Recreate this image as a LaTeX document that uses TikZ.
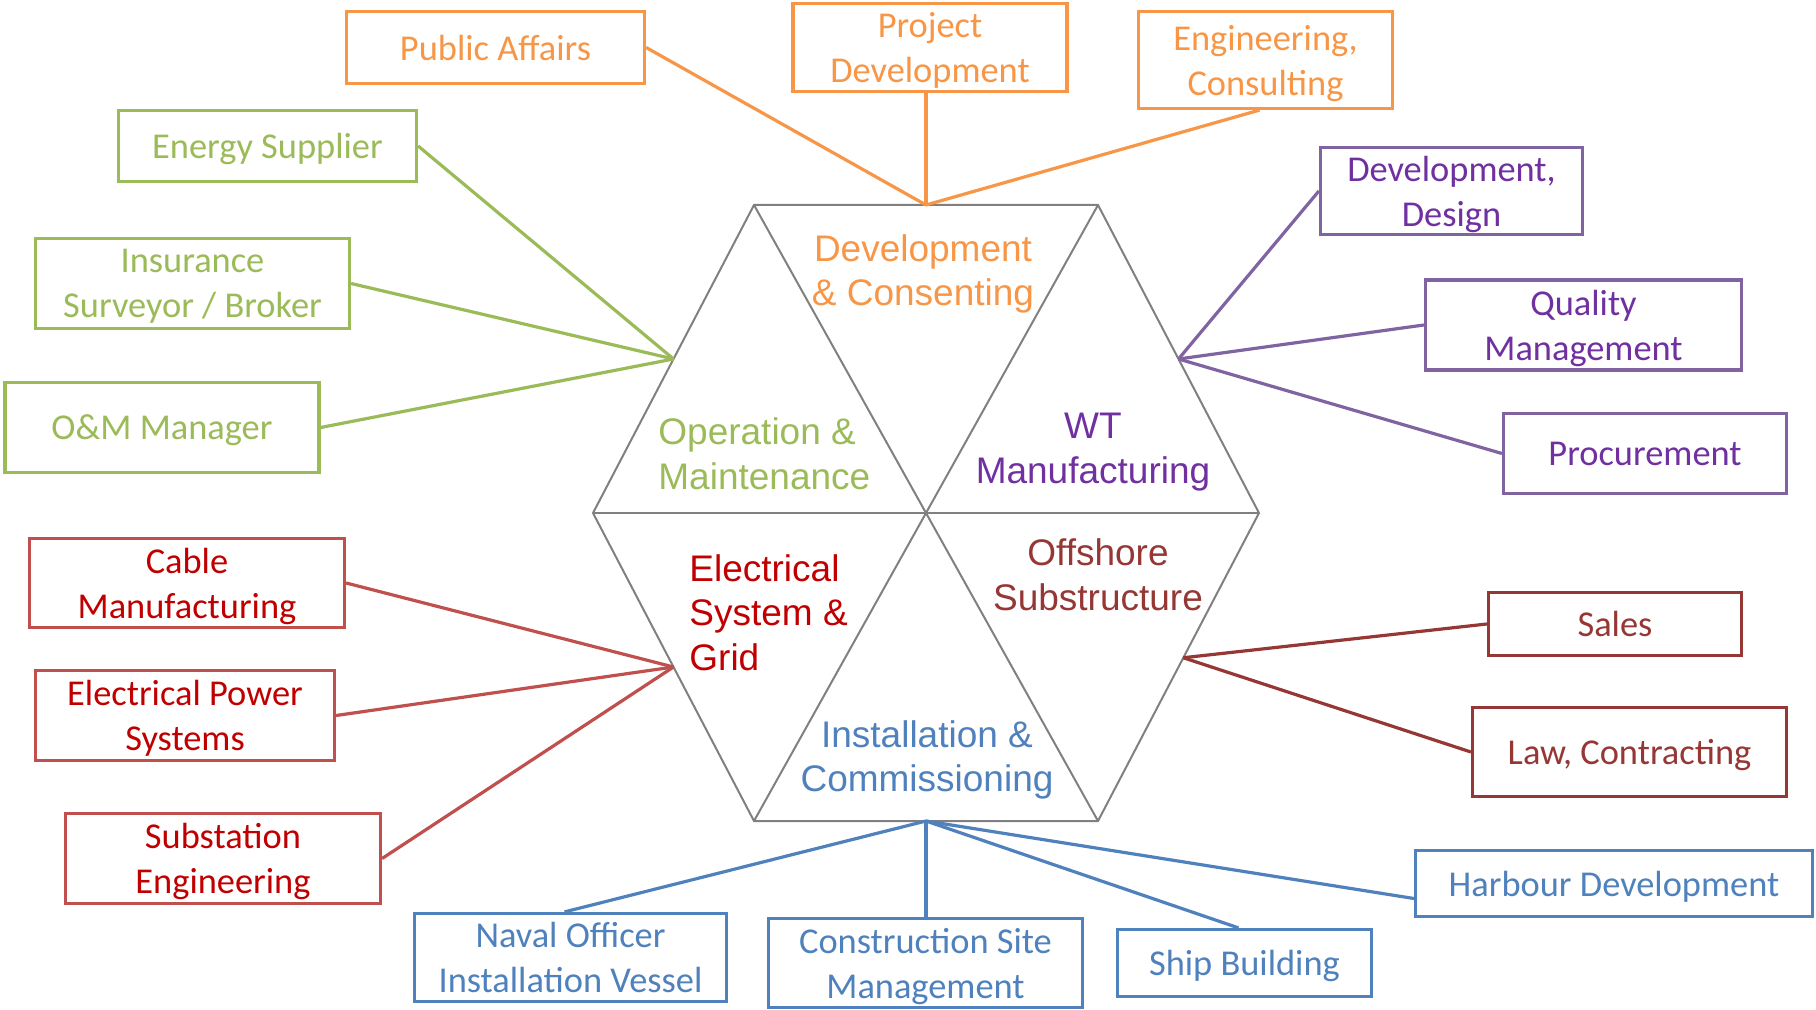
\documentclass[tikz,border=0pt]{standalone}
\usepackage{fontspec}
\setmainfont{Carlito}
\newfontfamily\hexfont{Liberation Sans}
\usetikzlibrary{calc}

\definecolor{devorange}{HTML}{F79646}
\definecolor{omgreen}{HTML}{9BBB59}
\definecolor{wtline}{HTML}{8064A2}
\definecolor{wttext}{HTML}{7030A0}
\definecolor{elline}{HTML}{C0504D}
\definecolor{eltext}{HTML}{C00000}
\definecolor{offred}{HTML}{953735}
\definecolor{instblue}{HTML}{4F81BD}
\definecolor{hexgray}{HTML}{808080}

\begin{document}
\begin{tikzpicture}[x=0.5pt, y=-0.5pt,
                    every box/.style = {rectangle, line width=1.6pt, fill=white, inner sep=1pt, align=center,
                            text depth=0pt, font=\fontsize{18.2}{22.5}\selectfont},
                    dev box/.style = {every box, draw=devorange, text=devorange},
                    om box/.style = {every box, draw=omgreen, text=omgreen},
                    wt box/.style = {every box, draw=wtline, text=wttext},
                    el box/.style = {every box, draw=elline, text=eltext},
                    off box/.style = {every box, draw=offred, text=offred},
                    inst box/.style = {every box, draw=instblue, text=instblue},
                    every link/.style = {line width=1.6pt},
                    dev link/.style = {every link, draw=devorange},
                    om link/.style = {every link, draw=omgreen},
                    wt link/.style = {every link, draw=wtline},
                    el link/.style = {every link, draw=elline},
                    off link/.style = {every link, draw=offred},
                    inst link/.style = {every link, draw=instblue},
                    hex edge/.style = {draw=hexgray, line width=1pt, line join=miter},
                    sector/.style = {inner sep=0pt, text depth=0pt, font=\hexfont\fontsize{18.5}{22.3}\selectfont} ]

                \useasboundingbox (0,0) rectangle (1816,1010);

                % hexagon
                \coordinate (hc) at (926,513);
                \coordinate (hl) at (593,513);
                \coordinate (hr) at (1259,513);
                \coordinate (htl) at (754,205);
                \coordinate (htr) at (1098,205);
                \coordinate (hbl) at (754,821);
                \coordinate (hbr) at (1098,821);
                \draw [hex edge] (hl) -- (htl) -- (htr) -- (hr) -- (hbr) -- (hbl) -- cycle;
                \foreach \v in {hl,htl,htr,hr,hbr,hbl}
                    \draw [hex edge] (hc) -- (\v);

                \coordinate (pdev) at ($(htl)!.5!(htr)$);
                \coordinate (pom) at ($(hl)!.5!(htl)$);
                \coordinate (pwt) at ($(htr)!.5!(hr)$);
                \coordinate (pel) at ($(hl)!.5!(hbl)$);
                \coordinate (poff) at ($(hr)!.47!(hbr)$);
                \coordinate (pinst) at ($(hbl)!.5!(hbr)$);

                \node [sector, text=devorange, align=center] (hdev) at (923,270) {Development\\\& Consenting};
                \node [sector, text=omgreen, align=left, anchor=west] (hom) at (658,453.5) {Operation \&\\Maintenance};
                \node [sector, text=wttext, align=center] (hwt) at (1093,448) {WT\\Manufacturing};
                \node [sector, text=eltext, align=left, anchor=west] (hel) at (689,612.5) {Electrical\\System \&\\Grid};
                \node [sector, text=offred, align=center] (hoff) at (1098,574.5) {Offshore\\Substructure};
                \node [sector, text=instblue, align=center] (hinst) at (927,756) {Installation \&\\Commissioning};

                % development top
                \node [dev box, minimum width=149pt, minimum height=36pt] (pubaff) at (495.5,47.5) {Public Affairs};
                \node [dev box, minimum width=137pt, minimum height=44pt] (projdev) at (930,47.5) {Project\\Development};
                \node [dev box, minimum width=127pt, minimum height=48.5pt] (engcons) at (1265.5,60) {Engineering,\\Consulting};
                \draw [dev link] (pubaff.east) -- (pdev);
                \draw [dev link] (projdev.south -| pdev) -- (pdev);
                \draw [dev link] ([xshift=-3pt]engcons.south) -- (pdev);

                % operation left
                \node [om box, minimum width=149pt, minimum height=35.5pt] (energy) at (267.5,146) {Energy Supplier};
                \node [om box, minimum width=157pt, minimum height=45pt] (insur) at (192.5,283.5) {Insurance\\Surveyor / Broker};
                \node [om box, minimum width=157pt, minimum height=45pt] (omman) at (162,427.5) {O\&M Manager};
                \draw [om link] (energy.east) -- (pom);
                \draw [om link] (insur.east) -- (pom);
                \draw [om link] (omman.east) -- (pom);

                % manufacturing right
                \node [wt box, minimum width=131pt, minimum height=43.5pt] (devdes) at (1451.5,191) {Development,\\Design};
                \node [wt box, minimum width=158pt, minimum height=45pt] (quality) at (1583.5,325) {Quality\\Management};
                \node [wt box, minimum width=141.5pt, minimum height=40pt] (procure) at (1645,453.5) {Procurement};
                \draw [wt link] (devdes.west) -- (pwt);
                \draw [wt link] (quality.west) -- (pwt);
                \draw [wt link] (procure.west) -- (pwt);

                % electrical left
                \node [el box, minimum width=157.5pt, minimum height=44.5pt] (cable) at (187,583) {Cable\\Manufacturing};
                \node [el box, minimum width=149.5pt, minimum height=45pt] (eps) at (185,715.5) {Electrical Power\\Systems};
                \node [el box, minimum width=157.5pt, minimum height=45pt] (subst) at (223,858.5) {Substation\\Engineering};
                \draw [el link] (cable.east) -- (pel);
                \draw [el link] (eps.east) -- (pel);
                \draw [el link] (subst.east) -- (pel);

                % substructure right
                \node [off box, minimum width=126.5pt, minimum height=31.5pt] (sales) at (1615,624) {Sales};
                \node [off box, minimum width=157pt, minimum height=44.5pt] (law) at (1629.5,752) {Law, Contracting};
                \draw [off link] (sales.west) -- (poff);
                \draw [off link] (law.west) -- (poff);

                % installation bottom
                \node [inst box, minimum width=156pt, minimum height=44pt] (naval) at (570.5,957.5) {Naval Officer\\Installation Vessel};
                \node [inst box, minimum width=157pt, minimum height=44.5pt] (constr) at (925.5,963) {Construction Site\\Management};
                \node [inst box, minimum width=127pt, minimum height=33.5pt] (shipb) at (1244.5,963) {Ship Building};
                \node [inst box, minimum width=198.5pt, minimum height=33pt] (harbour) at (1614,883.5) {Harbour Development};
                \draw [inst link] ([xshift=-3pt]naval.north) -- (pinst);
                \draw [inst link] (constr.north -| pinst) -- (pinst);
                \draw [inst link] ([xshift=-3pt]shipb.north) -- (pinst);
                \draw [inst link] ([yshift=-7.5pt]harbour.west) -- (pinst);

\end{tikzpicture}
\end{document}
